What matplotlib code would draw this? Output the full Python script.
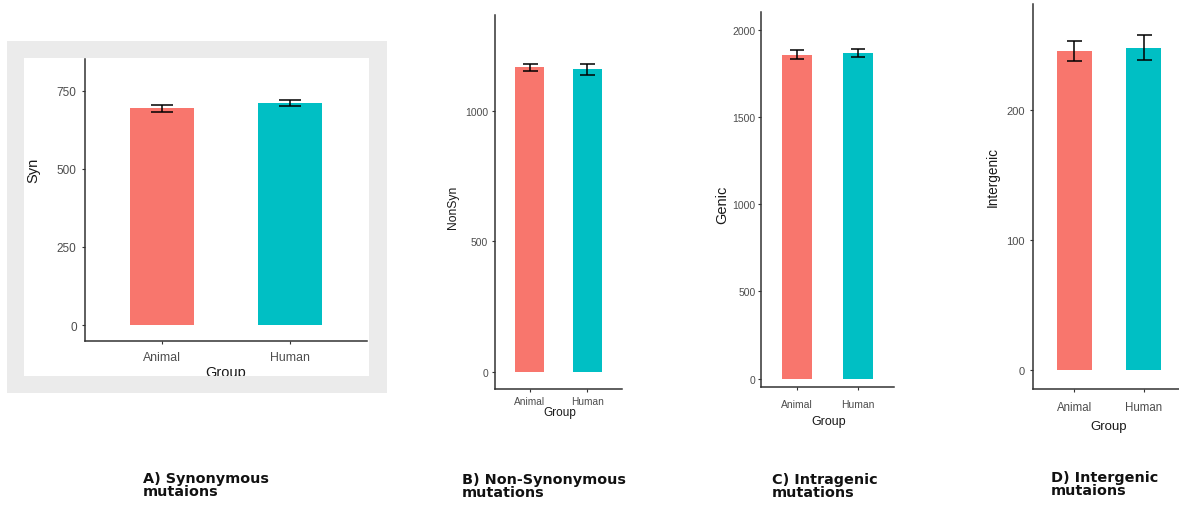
import matplotlib
matplotlib.use('Agg')
import matplotlib.pyplot as plt
from matplotlib.patches import Rectangle
from matplotlib.transforms import Bbox, TransformedBbox

W, H = 1179, 510

groups = ['Animal', 'Human']
colors = ['#F8766D', '#00BFC4']

syn_mean = [693, 710]
syn_err = [12, 10]
nonsyn_mean = [1166, 1159]
nonsyn_err = [14, 21]
genic_mean = [1857, 1866]
genic_err = [24, 24]
inter_mean = [245.6, 248.2]
inter_err = [7.7, 9.7]

ylabels = ['Syn', 'NonSyn', 'Genic', 'Intergenic']
captions = ['A) Synonymous\nmutaions', 'B) Non-Synonymous\nmutations',
            'C) Intragenic\nmutations', 'D) Intergenic\nmutaions']
syn_ticks = [0, 250, 500, 750]
nonsyn_ticks = [0, 500, 1000]
genic_ticks = [0, 500, 1000, 1500, 2000]
inter_ticks = [0, 100, 200]

plt.rcParams['font.family'] = ['Liberation Sans', 'DejaVu Sans']

fig = plt.figure(figsize=(W / 100, H / 100), dpi=100)


def frac(x, y):
    return x / W, 1 - y / H


def make_axes(l, t, r, b):
    return fig.add_axes([l / W, 1 - b / H, (r - l) / W, (b - t) / H])


# grey frame behind panel A
fig.patches.append(Rectangle(frac(7, 394), 380 / W, 352 / H, transform=fig.transFigure,
                             facecolor='#ebebeb', edgecolor='none', zorder=-2))
fig.patches.append(Rectangle(frac(24, 377), 345 / W, 318 / H, transform=fig.transFigure,
                             facecolor='white', edgecolor='none', zorder=-1))

# (box, ylim, means, errs, ticks, tick size, cat size, capsize, ypad, xpad)
panels = [
    ((85, 60, 367, 342), (-51, 851), syn_mean, syn_err, syn_ticks, 8.5, 8.8, 8, 3.5, 4.5),
    ((495, 16, 622, 390), (-64, 1366), nonsyn_mean, nonsyn_err, nonsyn_ticks, 7.5, 7.3, 5.4, 2.5, 2.5),
    ((761, 13, 894, 388), (-48, 2101), genic_mean, genic_err, genic_ticks, 7.5, 7.5, 5, 1.5, 6.5),
    ((1033, 5, 1185, 390), (-15, 282), inter_mean, inter_err, inter_ticks, 8, 8.3, 5.4, 3.5, 6.5),
]

axes = []
for box, ylim, means, errs, ticks, tsize, csize, cap, ypad, xpad in panels:
    ax = make_axes(*box)
    ax.set_facecolor('none')
    ax.bar([1, 2], means, width=0.5, color=colors, zorder=2)
    ax.errorbar([1, 2], means, yerr=errs, fmt='none', ecolor='black',
                elinewidth=1.1, capsize=cap, capthick=1.1, zorder=3)
    ax.set_xlim(0.4, 2.6)
    ax.set_ylim(*ylim)
    ax.set_xticks([1, 2])
    ax.set_xticklabels(groups)
    ax.set_yticks(ticks)
    for s in ['top', 'right']:
        ax.spines[s].set_visible(False)
    for s in ['left', 'bottom']:
        ax.spines[s].set_color('#333333')
        ax.spines[s].set_linewidth(1.1)
    ax.tick_params(axis='y', length=2.5, width=0.8, color='#333333',
                   labelsize=tsize, labelcolor='#4d4d4d', pad=ypad)
    ax.tick_params(axis='x', length=2.5, width=0.8, color='#333333',
                   labelsize=csize, labelcolor='#4d4d4d', pad=xpad)
    axes.append(ax)

# axis titles
ylab_pos = [(33, 170, 10.5), (453, 207, 8.7), (722, 205, 10.5), (993, 177, 9.8)]
for name, (x, y, s) in zip(ylabels, ylab_pos):
    fig.text(*frac(x, y), name, rotation=90, ha='center', va='center',
             fontsize=s, color='#1a1a1a')

group_pos = [(226, 373, 10.5), (559.5, 413, 8.5), (829, 422, 9), (1109, 427, 9.5)]
for i, (x, y, s) in enumerate(group_pos):
    t = fig.text(*frac(x, y), 'Group', ha='center', va='center',
                 fontsize=s, color='#1a1a1a')
    if i == 0:
        # panel A title is cut by the plot's own border
        clip = TransformedBbox(Bbox([[24 / W, 1 - 377 / H], [369 / W, 1 - 59 / H]]),
                               fig.transFigure)
        t.set_clip_box(clip)
        t.set_clip_on(True)

cap_pos = [(143, 472), (462, 473), (772, 473), (1051, 471)]
for text, (x, y) in zip(captions, cap_pos):
    fig.text(*frac(x, y), text, ha='left', va='top', fontsize=10.4,
             fontweight='bold', family=['DejaVu Sans'], linespacing=0.95,
             color='#111111')

fig.savefig('out.png', dpi=100)
